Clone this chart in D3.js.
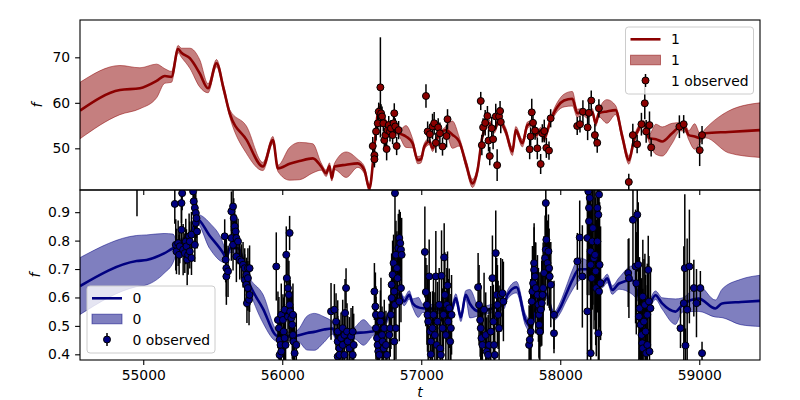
<!DOCTYPE html>
<html><head><meta charset="utf-8">
<script src="https://cdn.jsdelivr.net/npm/d3@7"></script>
<style>
body{margin:0;background:#fff}
svg{display:block}
text{font-family:"DejaVu Sans",sans-serif}
</style>
</head><body>
<svg id="chart" width="800" height="400"></svg>
<script>
// ---------------- DATA ----------------
const tTicks = [55000, 56000, 57000, 58000, 59000];
const fTicksTop = [50, 60, 70];
const fTicksBottom = [0.4, 0.5, 0.6, 0.7, 0.8, 0.9];
const legendTop = ["1", "1", "1 observed"];
const legendBottom = ["0", "0", "0 observed"];
const xLabel = "t", yLabel = "f";

// series "1" (top) predicted mean and half-width of band
const redT = [54545,54832,54976,55096,55155,55203,55251,55275,55335,55406,55466,55527,55579,55622,55742,55861,55933,55969,56053,56124,56220,56280,56316,56340,56356,56376,56460,56543,56591,56627,56663,56687,56699,56723,56771,56842,56890,56938,56974,56998,57022,57058,57082,57106,57178,57224,57273,57321,57369,57405,57440,57488,57524,57560,57608,57656,57680,57728,57764,57800,57824,57860,57883,57931,57979,58027,58087,58123,58159,58195,58230,58255,58278,58336,58398,58446,58494,58530,58566,58602,58638,58688,58733,58805,58864,58900,58924,58967,59008,59044,59211,59437];
const redMean = [58.3,62.8,63.2,64.8,65.9,65.7,71.8,71.0,69.8,66.5,63.2,68.7,63.0,57.7,51.9,46.0,51.8,45.6,46.6,47.2,47.8,46.0,44.5,46.1,43.4,46.0,46.4,46.7,45.2,41.2,50.4,57.7,59.1,57.0,54.75,53.3,52.6,51.1,47.4,47.6,50.4,51.5,50.0,51.8,54.0,53.0,51.5,46.7,42.3,45.2,52.6,55.5,54.0,56.2,53.7,49.3,54.0,51.1,55.1,55.5,52.9,54.0,52.2,56.2,59.1,60.5,60.9,57.7,58.05,57.3,58.05,55.5,57.7,58.1,58.4,52.6,47.4,51.8,54.4,55.5,52.2,52.0,51.5,53.3,54.75,54.4,52.9,52.6,52.2,53.3,53.6,54.0];
const redSd = [6.2,5.4,4.5,3.7,1.6,1.2,0.8,1.0,2.2,3.0,1.0,0.8,0.8,0.8,3.0,0.9,0.8,0.7,3.6,4.1,3.2,0.8,0.7,0.7,0.6,0.7,2.8,0.9,0.8,0.8,0.8,0.7,0.7,0.6,0.6,0.7,2.4,1.0,0.8,0.8,0.7,0.7,0.7,0.7,0.8,3.0,1.0,0.9,0.9,0.8,0.7,0.7,0.7,0.7,0.8,0.9,0.8,0.8,0.7,0.6,0.6,0.6,0.7,0.7,1.0,1.4,1.6,0.9,0.7,0.7,0.7,0.7,0.8,2.6,1.0,0.9,0.9,0.8,0.7,0.6,0.8,3.3,3.2,2.2,0.9,0.8,1.0,2.8,0.9,1.0,4.6,6.0];

// series "1" observations
const redObsT = [56651,56663,56663,56675,56687,56694,56706,56711,56718,56727,56734,56742,56751,56758,56766,56775,56782,56794,56801,56806,56813,56823,56837,57034,57046,57062,57081,57093,57105,57122,57134,57153,57182,57189,57428,57436,57445,57460,57476,57484,57493,57507,57517,57536,57546,57560,57567,57572,57780,57787,57795,57804,57819,57835,57859,57871,57885,57900,57919,57931,58122,58142,58163,58197,58206,58223,58249,58266,58278,58493,58522,58553,58584,58608,58618,58642,58654,58857,58888,59003,59020];
const redObsF = [50.5,48.5,47.6,53.7,55.5,58.05,63.4,57.7,57.0,55.5,51.8,52.9,49.85,54.0,55.1,53.7,54.4,52.9,55.5,57.7,54.8,50.5,54.0,61.5,53.7,53.1,54.8,55.5,51.2,54.6,53.3,50.4,52.7,56.4,60.4,50.7,54.6,55.6,57.1,51.7,48.3,54.4,52.0,57.0,46.3,57.0,58.2,55.8,49.8,52.6,57.9,55.6,53.9,50.0,46.55,53.3,53.8,50.1,49.5,56.6,54.9,55.3,58.05,54.6,57.8,60.5,52.9,51.2,58.8,42.6,52.9,50.9,55.3,59.9,53.7,55.1,50.2,54.75,55.3,49.6,52.9];
const redObsE = [2.0,2.2,1.8,2.0,2.5,2.0,11.0,2.0,2.2,1.8,2.0,2.5,2.5,1.8,2.0,2.2,1.8,2.0,2.5,2.2,1.8,2.0,2.0,2.6,2.2,2.0,2.8,2.5,2.2,2.0,2.4,2.0,2.5,2.2,2.0,2.2,2.0,2.8,2.2,2.4,2.0,2.5,2.2,2.8,3.5,2.0,2.2,2.5,2.2,2.0,3.0,2.2,2.0,2.4,2.2,2.0,2.5,2.2,2.0,2.0,2.0,1.8,2.5,2.8,2.5,2.2,2.5,2.2,2.0,1.8,2.5,2.0,2.5,3.5,2.5,3.0,2.0,2.5,2.0,3.5,2.0];

// series "0" (bottom) predicted mean and half-width of band
const blueT = [54545,54952,55024,55150,55215,55239,55300,55350,55383,55478,55579,55598,55622,55682,55753,55861,55966,56000,56060,56112,56180,56230,56300,56364,56388,56450,56519,56585,56650,56720,56790,56842,56877,56914,56938,56980,57010,57100,57213,57249,57285,57320,57350,57416,57500,57596,57620,57685,57751,57788,57848,57896,57955,58003,58039,58087,58135,58195,58231,58302,58338,58374,58422,58518,58566,58613,58685,58733,58829,58877,58996,59116,59164,59300,59437];
const blueMean = [0.640,0.728,0.732,0.755,0.773,0.778,0.800,0.830,0.878,0.817,0.753,0.737,0.773,0.773,0.661,0.561,0.465,0.470,0.462,0.466,0.475,0.479,0.487,0.491,0.461,0.465,0.474,0.477,0.480,0.500,0.560,0.615,0.586,0.609,0.580,0.565,0.562,0.560,0.551,0.598,0.530,0.609,0.578,0.551,0.560,0.575,0.609,0.636,0.520,0.497,0.602,0.614,0.535,0.567,0.608,0.661,0.699,0.699,0.661,0.649,0.667,0.626,0.649,0.661,0.602,0.550,0.608,0.579,0.550,0.573,0.596,0.561,0.579,0.584,0.588];
const blueSd = [0.100,0.090,0.088,0.070,0.050,0.025,0.015,0.015,0.015,0.045,0.030,0.015,0.015,0.015,0.020,0.050,0.020,0.015,0.015,0.020,0.060,0.065,0.045,0.020,0.015,0.015,0.020,0.045,0.015,0.015,0.015,0.015,0.015,0.015,0.015,0.035,0.015,0.015,0.015,0.015,0.015,0.015,0.050,0.015,0.015,0.015,0.015,0.020,0.020,0.020,0.015,0.015,0.015,0.020,0.025,0.035,0.040,0.030,0.015,0.015,0.015,0.015,0.020,0.050,0.020,0.015,0.015,0.020,0.045,0.025,0.045,0.030,0.050,0.080,0.090];

// series "0" observations
const blueObsT = [54955,
55227,55234,55239,55251,55258,55263,55275,55275,55280,55287,55299,55306,55311,55316,55323,55330,55335,55335,55347,55347,55359,55363,55371,55371,55378,55378,55383,55387,
55586,55593,55598,55598,55610,55634,55634,55646,55646,55651,55658,55665,55670,55670,55682,55694,55706,55718,55730,55730,55742,55742,55746,55753,55753,55753,55761,55765,55765,
55957,55969,55976,55981,55981,55988,55993,55993,56005,56010,56017,56017,56024,56029,56033,56041,56041,56048,56053,56053,56057,56065,56072,56077,56077,56081,56089,56101,
56351,56375,56387,56399,56399,56399,56411,56411,56423,56435,56435,56447,56447,56452,56459,56466,56471,56483,56495,56507,56507,56514,
56663,56670,56674,56674,56682,56686,56691,56698,56706,56710,56718,56722,56730,56734,56746,56753,56770,56777,56782,56787,56787,56794,56801,56806,56806,56811,56811,56818,56818,56825,56830,56835,56842,56842,56849,56854,56854,56859,
57026,57033,57041,57045,57050,57057,57065,57069,57069,57081,57088,57098,57105,57112,57117,57129,57136,57141,57146,57153,57160,57165,57170,57177,57184,57189,57194,57201,57208,57213,57218,
57409,57416,57424,57428,57433,57440,57452,57464,57471,57481,57488,57500,57512,57519,57524,57529,57536,57543,57548,57553,57560,57572,57584,57591,
57776,57781,57788,57788,57795,57800,57805,57812,57812,57819,57824,57836,57843,57848,57848,57853,57860,57867,57872,57877,57884,57891,57896,57896,57900,57908,57915,57920,57924,57932,57955,57955,
58123,58140,58159,58195,58195,58202,58207,58207,58212,58219,58219,58219,58226,58231,58235,58243,58250,58255,58259,58267,58267,58274,58274,58279,58279,58283,58290,
58489,58494,58523,58542,58547,58554,58561,58566,58570,58578,58585,58590,58594,58594,58602,58609,58614,58618,58626,58626,58633,58638,58642,58649,
58865,58889,58896,58901,58913,58929,58961,58980,59008,59020];
const blueObsF = [1.03,
0.929,0.785,0.762,0.791,0.750,0.780,0.838,0.932,0.967,0.768,0.756,0.797,0.780,0.733,0.750,0.815,0.762,0.797,0.821,0.739,0.973,0.938,0.915,0.785,0.897,0.862,0.879,0.832,
0.815,0.733,0.703,0.674,0.692,0.903,0.809,0.920,0.785,0.879,0.850,0.832,0.809,0.744,0.797,0.733,0.727,0.715,0.703,0.662,0.680,0.645,0.580,0.668,0.633,0.703,0.592,0.609,0.703,
0.709,0.521,0.492,0.451,0.398,0.433,0.410,0.539,0.521,0.480,0.457,0.557,0.433,0.750,0.668,0.633,0.533,0.609,0.827,0.574,0.551,0.527,0.504,0.468,0.539,0.445,0.404,0.433,
0.551,0.557,0.515,0.480,0.445,0.392,0.421,0.398,0.457,0.492,0.433,0.468,0.398,0.545,0.633,0.480,0.445,0.421,0.463,0.480,0.398,0.433,
0.621,0.568,0.539,0.492,0.457,0.433,0.410,0.398,0.515,0.539,0.468,0.445,0.421,0.492,0.433,0.398,0.468,0.492,0.539,0.598,0.645,0.680,0.721,0.621,0.445,0.574,0.967,0.750,0.492,0.703,0.668,0.774,0.809,0.586,0.791,0.633,0.768,0.750,
0.760,0.619,0.574,0.539,0.515,0.674,0.480,0.445,0.400,0.492,0.539,0.468,0.674,0.433,0.515,0.574,0.421,0.398,0.676,0.492,0.539,0.741,0.609,0.468,0.574,0.642,0.515,0.562,0.445,0.492,0.539,
0.636,0.574,0.521,0.492,0.457,0.433,0.557,0.468,0.410,0.398,0.433,0.480,0.668,0.515,0.433,0.398,0.756,0.609,0.574,0.539,0.492,0.609,0.615,0.586,
0.433,0.451,0.480,0.515,0.586,0.621,0.650,0.697,0.721,0.674,0.633,0.609,0.574,0.539,0.504,0.480,0.557,0.580,0.609,0.633,0.686,0.738,0.768,0.932,0.803,0.721,0.762,0.703,0.674,0.645,0.539,0.474,
0.727,0.811,0.674,0.809,0.551,0.973,0.915,0.868,0.950,0.762,0.715,0.404,0.668,0.797,0.844,0.738,0.750,0.692,0.633,0.915,0.797,0.891,0.474,0.962,0.621,0.715,0.650,
0.686,0.668,0.873,0.709,0.650,0.891,0.715,0.533,0.562,0.504,0.468,0.439,0.421,0.603,0.515,0.574,0.480,0.404,0.433,0.539,0.697,0.586,0.410,0.562,
0.492,0.580,0.703,0.431,0.557,0.709,0.633,0.580,0.633,0.404];
const blueObsE = [0.144,
0.07,0.09,0.08,0.08,0.07,0.06,0.08,0.07,0.06,0.09,0.07,0.08,0.06,0.09,0.07,0.08,0.06,0.07,0.08,0.06,0.07,0.09,0.08,0.06,0.07,0.08,0.07,0.06,
0.06,0.08,0.10,0.10,0.09,0.07,0.08,0.06,0.09,0.07,0.08,0.06,0.07,0.09,0.08,0.07,0.06,0.08,0.07,0.09,0.06,0.08,0.07,0.06,0.08,0.07,0.09,0.06,0.08,
0.12,0.10,0.11,0.09,0.10,0.12,0.10,0.11,0.09,0.12,0.10,0.11,0.12,0.10,0.09,0.11,0.10,0.12,0.06,0.10,0.11,0.09,0.12,0.10,0.11,0.10,0.09,0.11,
0.10,0.09,0.10,0.11,0.09,0.10,0.10,0.12,0.09,0.10,0.11,0.09,0.10,0.12,0.07,0.10,0.09,0.11,0.10,0.09,0.10,0.11,
0.10,0.12,0.10,0.11,0.09,0.10,0.12,0.10,0.11,0.13,0.10,0.09,0.11,0.10,0.12,0.10,0.11,0.10,0.12,0.13,0.11,0.12,0.10,0.14,0.10,0.12,0.28,0.12,0.11,0.13,0.10,0.12,0.10,0.14,0.11,0.12,0.10,0.13,
0.16,0.12,0.14,0.13,0.15,0.13,0.14,0.12,0.15,0.13,0.14,0.15,0.16,0.12,0.14,0.13,0.15,0.12,0.16,0.14,0.13,0.12,0.15,0.14,0.13,0.12,0.15,0.14,0.13,0.12,0.14,
0.12,0.14,0.13,0.15,0.12,0.14,0.13,0.15,0.12,0.14,0.13,0.16,0.15,0.13,0.17,0.14,0.15,0.13,0.14,0.12,0.15,0.13,0.12,0.14,
0.14,0.12,0.13,0.15,0.14,0.16,0.13,0.15,0.14,0.12,0.16,0.14,0.13,0.15,0.12,0.14,0.13,0.15,0.14,0.16,0.13,0.15,0.14,0.10,0.14,0.15,0.13,0.14,0.12,0.15,0.12,0.07,
0.10,0.13,0.18,0.20,0.22,0.25,0.24,0.26,0.22,0.25,0.28,0.20,0.26,0.24,0.27,0.25,0.23,0.26,0.24,0.22,0.25,0.23,0.21,0.24,0.26,0.22,0.20,
0.12,0.14,0.16,0.20,0.18,0.20,0.22,0.20,0.18,0.22,0.20,0.19,0.21,0.20,0.22,0.18,0.20,0.19,0.21,0.18,0.12,0.16,0.17,0.14,
0.07,0.20,0.26,0.06,0.25,0.20,0.10,0.12,0.06,0.04];

// ---------------- DRAWING ----------------
const svg = d3.select("#chart");
const L = 80, R = 760;
const panels = [
  {top: 20, bottom: 190, dom: [40.84, 78.2], ticks: fTicksTop, fmt: d3.format("d"), color: "#8b0000",
   T: redT, M: redMean, S: redSd, OT: redObsT, OF: redObsF, OE: redObsE, legend: legendTop,
   showX: false, ylabX: 42},
  {top: 190, bottom: 360, dom: [0.38, 0.978], ticks: fTicksBottom, fmt: d3.format(".1f"), color: "#000080",
   T: blueT, M: blueMean, S: blueSd, OT: blueObsT, OF: blueObsF, OE: blueObsE, legend: legendBottom,
   showX: true, ylabX: 40}
];
const x = d3.scaleLinear().domain([54545, 59437]).range([L, R]);
const FS = "13.9px";
const TL = 4.9, TP = 4.9;

panels.forEach((p, k) => {
  const y = d3.scaleLinear().domain(p.dom).range([p.bottom, p.top]);
  p.y = y;
  const cid = "clip" + k;
  svg.append("clipPath").attr("id", cid).append("rect")
    .attr("x", L).attr("y", p.top).attr("width", R - L).attr("height", p.bottom - p.top);
  const g = svg.append("g").attr("clip-path", `url(#${cid})`);
  const idx = d3.range(p.T.length);
  const area = d3.area().x(i => x(p.T[i])).y0(i => y(p.M[i] - p.S[i])).y1(i => y(p.M[i] + p.S[i]))
    .curve(d3.curveMonotoneX);
  g.append("path").attr("d", area(idx)).attr("fill", p.color).attr("fill-opacity", 0.5)
    .attr("stroke", p.color).attr("stroke-opacity", 0.5).attr("stroke-width", 1);
  const line = d3.line().x(i => x(p.T[i])).y(i => y(p.M[i])).curve(d3.curveMonotoneX);
  g.append("path").attr("d", line(idx)).attr("fill", "none").attr("stroke", p.color)
    .attr("stroke-width", 2.6).attr("stroke-linejoin", "round");
  const oi = d3.range(p.OT.length);
  g.append("g").selectAll("line").data(oi).join("line")
    .attr("x1", i => x(p.OT[i])).attr("x2", i => x(p.OT[i]))
    .attr("y1", i => y(p.OF[i] - p.OE[i])).attr("y2", i => y(p.OF[i] + p.OE[i]))
    .attr("stroke", "#000").attr("stroke-width", 1.5);
  g.append("g").selectAll("circle").data(oi).join("circle")
    .attr("cx", i => x(p.OT[i])).attr("cy", i => y(p.OF[i])).attr("r", 3.5)
    .attr("fill", p.color).attr("stroke", "#000").attr("stroke-width", 1);

  // y axis
  const ya = svg.append("g").attr("transform", `translate(${L},0)`)
    .call(d3.axisLeft(y).tickValues(p.ticks).tickFormat(p.fmt).tickSize(TL).tickPadding(TP).tickSizeOuter(0));
  ya.select(".domain").remove();
  ya.selectAll("line").attr("stroke", "#000").attr("stroke-width", 1.1);
  ya.selectAll("text").attr("font-size", FS).attr("fill", "#000").attr("font-family", "DejaVu Sans");
  // x axis
  const xa = svg.append("g").attr("transform", `translate(0,${p.bottom})`)
    .call(d3.axisBottom(x).tickValues(tTicks).tickFormat(p.showX ? d3.format("d") : "").tickSize(TL).tickPadding(TP).tickSizeOuter(0));
  xa.select(".domain").remove();
  xa.selectAll("line").attr("stroke", "#000").attr("stroke-width", 1.1);
  xa.selectAll("text").attr("font-size", FS).attr("fill", "#000").attr("font-family", "DejaVu Sans");
  // frame
  svg.append("rect").attr("x", L).attr("y", p.top).attr("width", R - L).attr("height", p.bottom - p.top)
    .attr("fill", "none").attr("stroke", "#000").attr("stroke-width", 1.1);
  // y label
  const cy = (p.top + p.bottom) / 2;
  svg.append("text").attr("transform", `translate(${p.ylabX},${cy}) rotate(-90)`)
    .attr("text-anchor", "middle").attr("font-size", FS).attr("font-style", "italic").text(yLabel);
});

svg.append("text").attr("x", 420).attr("y", 397).attr("text-anchor", "middle")
  .attr("font-size", FS).attr("font-style", "italic").text(xLabel);

// legends
function legend(p, bx, by, bw, bh) {
  const g = svg.append("g");
  g.append("rect").attr("x", bx).attr("y", by).attr("width", bw).attr("height", bh).attr("rx", 3)
    .attr("fill", "#fff").attr("fill-opacity", 0.8).attr("stroke", "#cccccc").attr("stroke-width", 1);
  const lx = bx + 5, lw = 30, tx = bx + 45.5;
  const rows = [by + 12.3, by + 33, by + 53.5];
  g.append("line").attr("x1", lx).attr("x2", lx + lw).attr("y1", rows[0]).attr("y2", rows[0])
    .attr("stroke", p.color).attr("stroke-width", 2.6);
  g.append("rect").attr("x", lx).attr("y", rows[1] - 4.8).attr("width", lw).attr("height", 9.6)
    .attr("fill", p.color).attr("fill-opacity", 0.5).attr("stroke", p.color).attr("stroke-opacity", 0.5);
  const mx = lx + lw / 2;
  g.append("line").attr("x1", mx).attr("x2", mx).attr("y1", rows[2] - 6.5).attr("y2", rows[2] + 6.5)
    .attr("stroke", "#000").attr("stroke-width", 1.5);
  g.append("circle").attr("cx", mx).attr("cy", rows[2]).attr("r", 3.5)
    .attr("fill", p.color).attr("stroke", "#000").attr("stroke-width", 1);
  rows.forEach((ry, i) => {
    g.append("text").attr("x", tx).attr("y", ry + 5).attr("font-size", FS).attr("fill", "#000").text(p.legend[i]);
  });
}
legend(panels[0], 625.5, 27, 128, 67);
legend(panels[1], 87, 286, 128, 67);
</script>
</body></html>
